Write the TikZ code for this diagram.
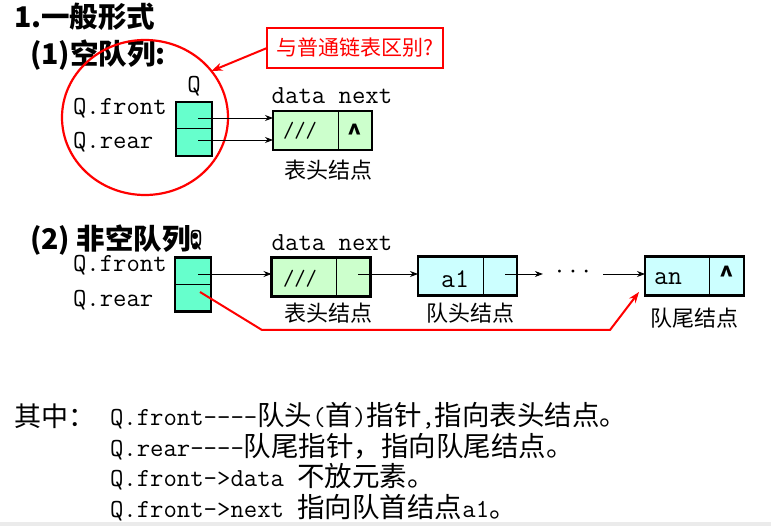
\documentclass[tikz,border=0pt]{standalone}
\usepackage{fontspec}
\usepackage{tikz}
\usetikzlibrary{arrows.meta,shapes.geometric,calc}
\newfontfamily\cjk{Noto Sans CJK SC}
\newcommand\fsz[1]{\fontsize{#1}{#1}\selectfont}
\newcommand\zh[1]{{\cjk\fsz{27.5}#1}}
\definecolor{qgreen}{HTML}{66FFCC}
\definecolor{hgreen}{HTML}{CCFFCC}
\definecolor{dcyan}{HTML}{CCFFFF}
\tikzset{
    every node/.style={inner sep=0pt, outer sep=0pt},
    qbox/.style={draw, line width=2.4pt, fill=qgreen, minimum width=36pt, minimum height=54pt},
    lnode/.style={draw, line width=2.4pt, minimum width=99pt, minimum height=39pt},
    ptr/.style={-{Stealth[length=8pt, width=6pt]}, line width=0.9pt},
    rptr/.style={-{Stealth[length=11pt, width=8pt]}, draw=red, line width=2pt},
    tt/.style={font=\ttfamily\fsz{26}},
    zhlabel/.style={font=\cjk\fsz{22}},
    head/.style={font=\cjk\bfseries\fsz{28.5}, anchor=west},
    nil/.style={anchor=north, font=\cjk\bfseries\fsz{24}},
    line/.style={font=\ttfamily\fsz{26}, anchor=west},
}

\begin{document}
\begin{tikzpicture}[x=1pt, y=-1pt]
    \useasboundingbox (0,0) rectangle (771,526);
    \fill[black!8] (0,522) rectangle (771,526);

    \node (t1) at (14,17) [head] {1.一般形式};
    \node (t2) at (30,55) [head] {(1)空队列:};

    % empty queue
    \node (ring) at (145,117.5) [ellipse, draw=red, line width=2.2pt,
        minimum width=166pt, minimum height=155pt] {};
    \node (note) at (355,48) [draw=red, line width=2pt, minimum width=176pt,
        minimum height=40pt, text=red, font=\cjk\fsz{21}] {与普通链表区别?};
    \draw[rptr] (note.west) -- (ring.35);

    \node (q1lab) at (194,86) [tt] {Q};
    \node (f1lab) at (73,108) [tt, anchor=west] {Q.front};
    \node (r1lab) at (73,142) [tt, anchor=west] {Q.rear};
    \node (Q1) at (194,129) [qbox] {};
    \draw[line width=1pt] (Q1.west) -- (Q1.east);

    \node (h1) at (322.5,130.5) [lnode, fill=hgreen] {};
    \draw[line width=1pt] ($(h1.north west)+(65,0)$) -- ($(h1.south west)+(65,0)$);
    \node (h1dat) at (300,131) [font=\ttfamily\fsz{22}] {///};
    \node (h1nil) at (355,124) [nil] {\textasciicircum};
    \node (dn1) at (332,96) [tt] {data next};
    \node (hl1) at (328,170) [zhlabel] {表头结点};

    \coordinate (f1) at (198,118);
    \coordinate (r1) at (198,140);
    \draw[ptr] (f1) -- (h1.west |- f1);
    \draw[ptr] (r1) -- (h1.west |- r1);

    % non-empty queue
    \node (t3) at (30,240) [head] {(2) 非空队列:};
    \node (q2lab) at (196,240) [tt] {Q};
    \node (f2lab) at (73,265) [tt, anchor=west] {Q.front};
    \node (r2lab) at (73,300) [tt, anchor=west] {Q.rear};
    \node (Q2) at (193,284.5) [qbox] {};
    \draw[line width=1pt] (Q2.west) -- (Q2.east);

    \node (h2) at (321,277) [lnode, fill=hgreen] {};
    \draw[line width=1pt] ($(h2.north west)+(65,0)$) -- ($(h2.south west)+(65,0)$);
    \node (h2dat) at (300,279) [font=\ttfamily\fsz{22}] {///};
    \node (dn2) at (332,243) [tt] {data next};
    \node (hl2) at (328,313) [zhlabel] {表头结点};

    \node (n1) at (467.5,276) [lnode, fill=dcyan] {};
    \draw[line width=1pt] ($(n1.north west)+(65,0)$) -- ($(n1.south west)+(65,0)$);
    \node (n1dat) at (455,279) [font=\ttfamily\fsz{27}] {a1};
    \node (nl1) at (470,313) [zhlabel] {队头结点};

    \node (dots) at (573,280) [tt, anchor=base, inner xsep=10pt] {···};

    \node (n2) at (694.5,276) [lnode, fill=dcyan] {};
    \draw[line width=1pt] ($(n2.north west)+(64,0)$) -- ($(n2.south west)+(64,0)$);
    \node (n2dat) at (668,279) [font=\ttfamily\fsz{27}] {an};
    \node (n2nil) at (727,266) [nil] {\textasciicircum};
    \node (nl2) at (694,318) [zhlabel] {队尾结点};

    \coordinate (f2) at (198,274);
    \coordinate (r2) at (200,292);
    \coordinate (h2out) at (358,274);
    \coordinate (n1out) at (505,274);
    \coordinate (rt) at (639,292);
    \draw[ptr] (f2) -- (h2.west |- f2);
    \draw[ptr] (h2out) -- (n1.west |- h2out);
    \draw[ptr] (n1out) -- (dots.west |- n1out);
    \draw[ptr] (dots.east |- n1out) -- (n2.west |- n1out);
    \draw[rptr] (r2) -- ++(62,38) -- ++(348,0) -- (rt);

    % notes
    \node (k0) at (14,416) [anchor=west, font=\cjk\fsz{27}] {其中：};
    \node (k1) at (110,416) [line] {Q.front-{}-{}-{}-\zh{队头}(\zh{首})\zh{指针},\zh{指向表头结点。}};
    \node (k2) at (110,447) [line] {Q.rear-{}-{}-{}-\zh{队尾指针，指向队尾结点。}};
    \node (k3) at (110,477) [line] {Q.front->data \zh{不放元素。}};
    \node (k4) at (110,508) [line] {Q.front->next \zh{指向队首结点}a1\zh{。}};
\end{tikzpicture}
\end{document}
